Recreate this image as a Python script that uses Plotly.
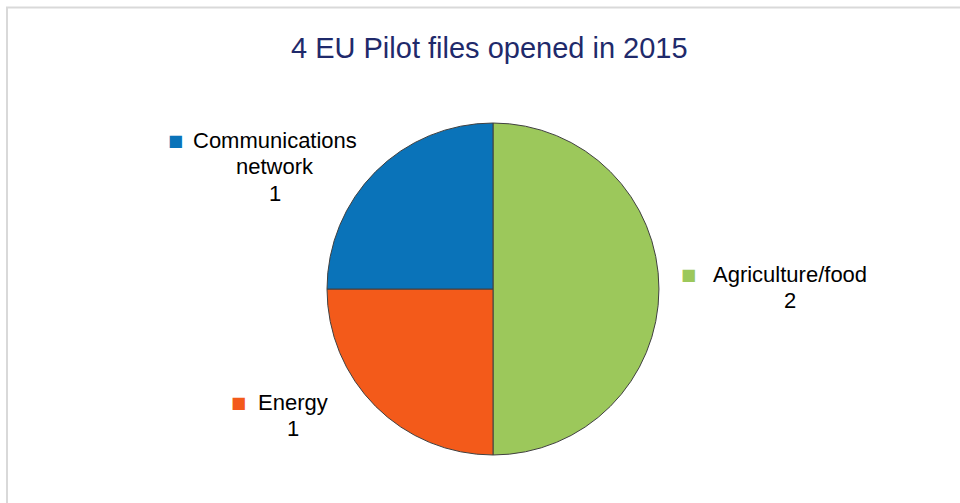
import plotly.graph_objects as go

labels = ["Agriculture/food", "Energy", "Communications network"]
values = [2, 1, 1]
colors = ["#9CC85B", "#F35A1A", "#0A73B9"]
label_lines = {
    "Agriculture/food": ["Agriculture/food"],
    "Energy": ["Energy"],
    "Communications network": ["Communications", "network"],
}
title_text = "4 EU Pilot files opened in 2015"

W, H = 960, 503

fig = go.Figure()
fig.add_trace(go.Pie(
    labels=labels,
    values=values,
    sort=False,
    direction="clockwise",
    rotation=0,
    textinfo="none",
    hoverinfo="label+value",
    marker=dict(colors=colors, line=dict(color="#404040", width=1)),
    domain=dict(x=[327/W, 659/W], y=[1 - 455/H, 1 - 123/H]),
    showlegend=False,
))

# label layout: (text centre x, first line y, marker x)
label_pos = {
    "Communications network": (275, 140, 175),
    "Energy": (293, 402, 238),
    "Agriculture/food": (790, 274, 688),
}
line_h = 26.5
for lab, val, col in zip(labels, values, colors):
    cx, y0, mx = label_pos[lab]
    lines = label_lines[lab] + [str(val)]
    for i, t in enumerate(lines):
        fig.add_annotation(
            x=cx/W, y=1 - (y0 + i*line_h)/H, xref="paper", yref="paper",
            text=t, showarrow=False, align="center",
            font=dict(family="Liberation Sans, Arial", size=22, color="#000000"),
            xanchor="center", yanchor="middle",
        )
    fig.add_annotation(
        x=mx/W, y=1 - y0/H, xref="paper", yref="paper",
        text="■", showarrow=False,
        font=dict(family="DejaVu Sans", size=16, color=col),
        xanchor="center", yanchor="middle",
    )

fig.add_annotation(
    x=490/W, y=1 - 48/H, xref="paper", yref="paper",
    text=title_text, showarrow=False,
    font=dict(family="Liberation Sans, Arial", size=29, color="#1F2A6B"),
    xanchor="center", yanchor="middle",
)

fig.add_shape(type="rect", xref="paper", yref="paper",
              x0=7/W, x1=1.02, y0=-0.02, y1=1 - 7.5/H,
              line=dict(color="#D9D9D9", width=2), fillcolor="rgba(0,0,0,0)")

fig.update_layout(
    width=W, height=H,
    margin=dict(l=0, r=0, t=0, b=0),
    paper_bgcolor="white", plot_bgcolor="white",
)

fig.write_html("out.html",
               config={"displayModeBar": False},
               post_script="document.body.style.margin='0';document.body.style.overflow='hidden';")
